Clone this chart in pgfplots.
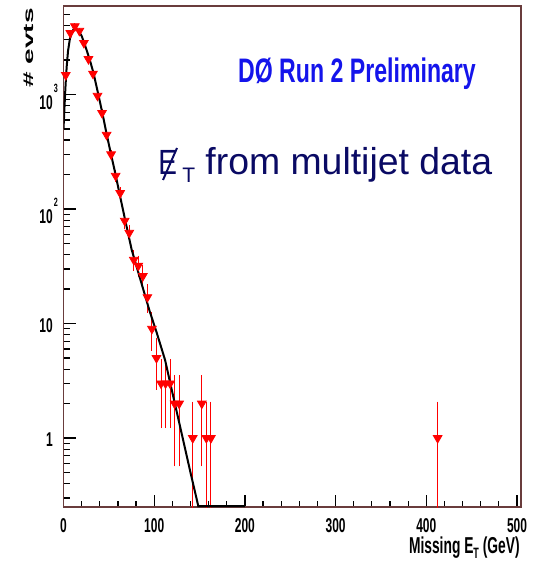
\documentclass[border=0pt]{standalone}
\usepackage{fontspec}
\setmainfont{Liberation Sans}
\newfontfamily\rootfont[FakeStretch=0.68]{Liberation Sans}
\newfontfamily\tickfont[FakeStretch=0.6]{Liberation Sans}
\usepackage{graphicx}
\usepackage{pgfplots}
\pgfplotsset{compat=1.18}
\usepackage{pgfplotstable}
\definecolor{framecol}{RGB}{105,60,60}
\definecolor{dzero}{RGB}{20,20,235}
\definecolor{navy}{RGB}{10,10,100}

\pgfplotstableread{
x y ep em
2.5 1480 38.5 38.5
7.5 3450 58.7 58.7
12.5 3950 62.8 62.8
17.5 3600 60.0 60.0
22.5 2820 53.1 53.1
27.5 2040 45.2 45.2
32.5 1520 39.0 39.0
37.5 975 31.2 31.2
42.5 690 26.3 26.3
47.5 445 21.1 21.1
52.5 300 17.3 17.3
57.5 195 14.0 14.0
62.5 138 11.7 11.7
67.5 79 8.9 8.9
72.5 62 7.9 7.9
77.5 36 6.0 6.0
82.5 32 5.66 5.66
87.5 26 5.10 5.10
92.5 17 4.12 4.12
97.5 9 3.0 3.0
102.5 5 2.24 2.24
107.5 3 1.73 1.73
112.5 3 1.73 1.73
117.5 3 1.73 1.73
122.5 2 1.41 1.41
127.5 2 1.41 1.41
142.5 1 1.0 0.999
152.5 2 1.41 1.41
157.5 1 1.0 0.999
162.5 1 1.0 0.999
412.5 1 1.0 0.999
}\evts

\pgfplotstableread{
x y
0 500
1 750
2 1100
2.5 1300
3.5 1750
5 2400
7 3050
9 3450
11 3700
13 3780
15 3700
17.5 3500
20 3250
23.7 2700
29.2 1980
33 1550
38.4 1000
43 680
47.6 450
52 310
56.8 210
62.5 128
68 80
75.2 44
80 32.6
88 19.8
95 12.8
102.8 8.3
112 4.8
120 2.5
130 1.12
140 0.50
148.6 0.255
200 0.255
}\fitcurve

\begin{document}
\begin{tikzpicture}
\useasboundingbox (0,0) rectangle (268.5pt,280.5pt);
\begin{axis}[
  at={(31.75pt,27pt)}, anchor=south west,
  width=228.75pt, height=250.5pt, scale only axis,
  xmin=0, xmax=504.4,
  ymode=log, ymin=0.25, ymax=5930,
  xtick={0,100,200,300,400,500},
  xticklabels={0,100,200,300,400,500},
  minor x tick num=4,
  ytick={1,10,100,1000},
  yticklabels={1,10,{10\rlap{\hspace{0.6pt}\raisebox{8.5pt}{\fontsize{6}{6}\selectfont 2}}},{10\rlap{\hspace{0.6pt}\raisebox{8.5pt}{\fontsize{6}{6}\selectfont 3}}}},
  minor ytick={0.3,0.4,0.5,0.6,0.7,0.8,0.9,2,3,4,5,6,7,8,9,20,30,40,50,60,70,80,90,200,300,400,500,600,700,800,900,2000,3000,4000,5000},
  tick pos=left,
  tick align=inside,
  major tick length=6pt,
  minor tick length=3pt,
  tick style={black, line width=0.6pt},
  axis line style={framecol, line width=0.7pt},
  tick label style={font=\fontsize{10}{11}\tickfont\bfseries},
  xticklabel style={anchor=north, inner sep=0pt, yshift=-5.5pt},
  yticklabel style={anchor=east, inner sep=0pt, xshift=-5.2pt, yshift=-1pt},
]
\addplot[only marks, red, mark=triangle*, mark size=2.5pt,
  mark options={rotate=180, fill=red, draw=red},
  error bars/.cd, y dir=both, y explicit,
  error bar style={red, line width=0.5pt},
  error mark options={red, mark size=1pt, line width=0.5pt}]
  table[x=x, y=y, y error plus=ep, y error minus=em] {\evts};
\addplot[black, line width=1pt, no marks] table[x=x, y=y] {\fitcurve};
\end{axis}
\node[rotate=90, anchor=east, inner sep=0pt] at (14.5pt,276.5pt)
  {\scalebox{1}[0.5]{\fontsize{14}{15}\selectfont\bfseries \# evts}};
\node[anchor=base east, inner sep=0pt, font=\fontsize{11.5}{13}\tickfont\bfseries] at (260pt,3.5pt)
  {Missing E\raisebox{-2.2pt}{\fontsize{7.5}{8}\selectfont T} (GeV)};
\node[anchor=base, inner sep=0pt, text=dzero, font=\fontsize{17}{20}\rootfont\bfseries] at (178.5pt,239pt)
  {DØ Run 2 Preliminary};
\node[anchor=base west, inner sep=0pt, text=navy, font=\fontsize{18.7}{22}\selectfont] at (102.5pt,193pt)
  {from multijet data};
\node[anchor=base west, inner sep=0pt, text=navy, font=\fontsize{17.5}{20}\selectfont] at (79pt,193pt)
  {\scalebox{0.8}[1]{E}};
\node[anchor=base west, inner sep=0pt, text=navy, font=\fontsize{10.5}{12}\selectfont] at (91pt,189pt) {T};
\draw[navy, line width=1pt] (88.5pt,206.5pt) -- (81.5pt,190.5pt);
\end{tikzpicture}
\end{document}
